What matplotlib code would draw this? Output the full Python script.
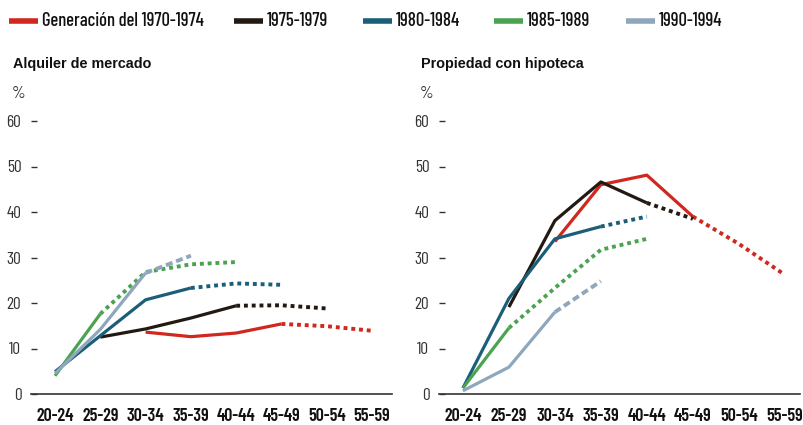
import matplotlib
matplotlib.use("Agg")
import matplotlib.pyplot as plt
import numpy as np
from matplotlib.lines import Line2D

categories = ["20-24", "25-29", "30-34", "35-39", "40-44", "45-49", "50-54", "55-59"]
series_names = ["Generación del 1970-1974", "1975-1979", "1980-1984", "1985-1989", "1990-1994"]
colors = ["#d0271f", "#221a12", "#1b5e78", "#4ba352", "#8fa7bc"]

# Alquiler de mercado: observed (solid) and projected (dotted) values per age group; None = no data
rent_solid = [
    [None, None, 13.6, 12.6, 13.4, 15.4, None, None],
    [None, 12.5, 14.3, 16.7, 19.4, None, None, None],
    [4.9, 12.8, 20.7, 23.3, None, None, None, None],
    [4.0, 17.6, None, None, None, None, None, None],
    [4.5, 14.2, 26.6, None, None, None, None, None],
]
rent_proj = [
    [None, None, None, None, None, 15.4, 14.9, 13.9],
    [None, None, None, None, 19.4, 19.5, 18.8, None],
    [None, None, None, 23.3, 24.3, 24.0, None, None],
    [None, 17.6, 26.8, 28.5, 29.0, None, None, None],
    [None, None, 26.6, 30.4, None, None, None, None],
]
# Propiedad con hipoteca
mort_solid = [
    [None, None, 33.5, 46.0, 48.1, 39.0, None, None],
    [None, 19.1, 38.1, 46.6, 42.0, None, None, None],
    [1.3, 21.0, 34.1, 36.8, None, None, None, None],
    [1.3, 14.5, None, None, None, None, None, None],
    [0.7, 5.9, 18.0, None, None, None, None, None],
]
mort_proj = [
    [None, None, None, None, None, 39.0, 33.0, 26.2],
    [None, None, None, None, 42.0, 38.5, None, None],
    [None, None, None, 36.8, 39.0, None, None, None],
    [None, 14.5, 23.3, 31.7, 34.1, None, None, None],
    [None, None, 18.0, 24.8, None, None, None, None],
]
yticks = [0, 10, 20, 30, 40, 50, 60]

NARROW = ["Barlow Condensed", "Archivo Narrow", "DejaVu Sans"]
BOLD = ["Liberation Sans", "DejaVu Sans"]
plt.rcParams["font.family"] = NARROW

W, H = 804, 425
fig = plt.figure(figsize=(W / 100, H / 100), dpi=100)

def draw(ax, solid, proj, title, xlim, title_x):
    x = np.arange(len(categories))
    for i in range(len(series_names)):
        s = np.array([np.nan if v is None else v for v in solid[i]], dtype=float)
        p = np.array([np.nan if v is None else v for v in proj[i]], dtype=float)
        ax.plot(x, s, color=colors[i], lw=2.3, solid_capstyle="butt", zorder=3)
        ls = (0, (1.8, 1)) if i == 4 else (0, (1, 1))
        ax.plot(x, p, color=colors[i], lw=2.8, linestyle=ls, dash_capstyle="butt", zorder=3)
    ax.set_xlim(*xlim)
    ax.set_ylim(0, 60)
    ax.set_xticks(x)
    ax.set_xticklabels(categories, fontsize=13, fontweight="semibold", color="#111111")
    ax.set_yticks(yticks)
    ax.set_yticklabels([str(v) for v in yticks], fontsize=12.5, color="#333333")
    ax.tick_params(axis="x", length=0, pad=10)
    ax.tick_params(axis="y", direction="in", length=4, width=1, color="#333333", pad=7)
    for sp in ["top", "right", "left"]:
        ax.spines[sp].set_visible(False)
    ax.spines["bottom"].set_color("#333333")
    ax.spines["bottom"].set_linewidth(1.2)
    fig.text(title_x, 1 - 64 / H, title, fontsize=10.4, fontweight="bold",
             family=BOLD, va="center", ha="left", color="#111111")
    fig.text(title_x - 1 / W, 1 - 93 / H, "%", fontsize=12.5, va="center", ha="left", color="#333333")

ax1 = fig.add_axes([31 / W, 1 - 394 / H, 361 / W, 273 / H])
draw(ax1, rent_solid, rent_proj, "Alquiler de mercado", (-0.53, 7.44), 13 / W)
ax2 = fig.add_axes([439 / W, 1 - 394 / H, 361 / W, 273 / H])
draw(ax2, mort_solid, mort_proj, "Propiedad con hipoteca", (-0.52, 7.33), 421 / W)

# Legend laid out manually (handle start positions in pixels)
legend_x = [9, 234, 363, 494, 626]
ly = 1 - 21 / H
for px, name, c in zip(legend_x, series_names, colors):
    fig.add_artist(Line2D([px / W, (px + 29) / W], [ly, ly], color=c, lw=4,
                          solid_capstyle="butt", transform=fig.transFigure))
    fig.text((px + 33) / W, ly, name, fontsize=13.4, fontweight="medium",
             va="center", ha="left", color="#111111")

fig.savefig("out.png", dpi=100)
